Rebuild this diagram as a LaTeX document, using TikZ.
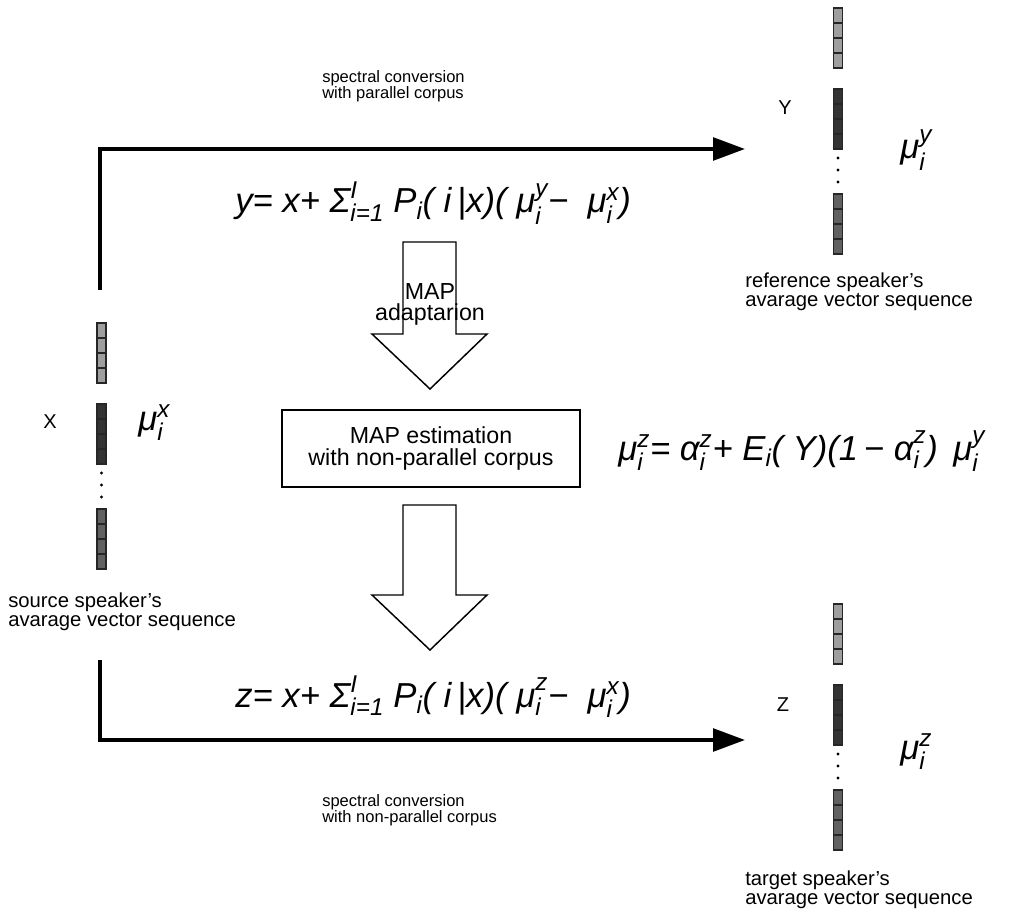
\documentclass[tikz,border=0pt]{standalone}
\usepackage{fontspec}
\usepackage{amsmath}
\setmainfont{Liberation Sans}
\usetikzlibrary{arrows.meta}
\newcommand\T[1]{\text{\itshape #1}}
\tikzset{
  cell/.style={draw=black!85,line width=0.8pt},
  conn/.style={line width=2.8pt,-{Triangle[length=24pt,width=17pt]}},
  blockarrow/.style={draw,line width=1.1pt,fill=white},
  lbl/.style={inner sep=0pt,align=left,font=\fontsize{15.2}{14}\selectfont},
  small/.style={inner sep=0pt,align=left,font=\fontsize{12.4}{12.5}\selectfont},
  mid/.style={inner sep=0pt,align=center,font=\fontsize{17.4}{16}\selectfont},
  letter/.style={inner sep=0pt,font=\fontsize{15}{15}\selectfont},
  formula/.style={inner sep=0pt,anchor=base west,font=\fontsize{26}{28}\selectfont},
}
\newcommand\vcol[3]{%
  \foreach \k in {0,...,3}{
    \draw[cell,fill=black!38] (#2-4.5,#3+\k*15) rectangle ++(9,15);
    \draw[cell,fill=black!80] (#2-4.5,#3+81+\k*15) rectangle ++(9,15);
    \draw[cell,fill=black!62] (#2-4.5,#3+186+\k*15) rectangle ++(9,15);
  }
  \foreach \d in {150,162,174} \fill (#2,#3+\d) circle[radius=1.3pt];
  \coordinate (#1top) at (#2,#3);
}
\begin{document}
\begin{tikzpicture}[x=0.75pt,y=-0.75pt]
\useasboundingbox (0,0) rectangle (1011,913);

% vector columns
\vcol{X}{101.5}{323}
\vcol{Y}{838}{8}
\vcol{Z}{838}{604}

% main conversion arrows
\coordinate (xup) at (100,290);
\coordinate (yin) at (745,149);
\coordinate (xdown) at (100,660);
\coordinate (zin) at (745,740);
\draw[conn] (xup) |- (yin);
\draw[conn] (xdown) |- (zin);

% block arrows
\draw[blockarrow] (403,242) -- (456,242) -- (456,334) -- (487,334) -- (430,389) -- (372,334) -- (403,334) -- cycle;
\draw[blockarrow] (403,505) -- (456,505) -- (456,595) -- (487,595) -- (430,650) -- (372,595) -- (403,595) -- cycle;

% MAP box
\node[mid,draw,line width=1.1pt,minimum width=223.5pt,minimum height=57.75pt] (mapbox) at (431,448.5) {MAP estimation\\with non-parallel corpus};
\node[mid,anchor=north] (mapad) at (430,283) {MAP\\adaptarion};

% texts
\node[small,anchor=north west] (sc1) at (322,70) {spectral conversion\\with parallel corpus};
\node[small,anchor=north west] (sc2) at (322,794) {spectral conversion\\with non-parallel corpus};
\node[lbl,anchor=north west] (src) at (8,593) {source speaker's\\avarage vector sequence};
\node[lbl,anchor=north west] (ref) at (745,273) {reference speaker's\\avarage vector sequence};
\node[lbl,anchor=north west] (tgt) at (745,871) {target speaker's\\avarage vector sequence};
\node[letter] (lx) at (50,422) {X};
\node[letter] (ly) at (785,108) {Y};
\node[letter] (lz) at (783,705) {Z};

% mu labels
\node[formula] (mux) at (138,430) {$\T{μ}_{\T{i}}^{\T{x}}$};
\node[formula] (muy) at (900,159) {$\T{μ}_{\T{i}}^{\T{y}}$};
\node[formula] (muz) at (900,759) {$\T{μ}_{\T{i}}^{\T{z}}$};

% formulas
\node[formula] (fy) at (235,213) {$\T{y=\;x+\;Σ}_{\T{i=1}}^{\T{I}}\;\T{P}_{\T{i}}\T{(\;i\,|x)(\;μ}_{\T{i}}^{\T{y}}\T{−\; μ}_{\T{i}}^{\T{x}}\T{)}$};
\node[formula] (fz) at (235,707) {$\T{z=\;x+\;Σ}_{\T{i=1}}^{\T{I}}\;\T{P}_{\T{i}}\T{(\;i\,|x)(\;μ}_{\T{i}}^{\T{z}}\T{−\; μ}_{\T{i}}^{\T{x}}\T{)}$};
\node[formula] (fmu) at (618,460) {$\T{μ}_{\T{i}}^{\T{z}}\T{=\;α}_{\T{i}}^{\T{z}}\T{+\;E}_{\T{i}}\T{(\;Y)(1\,−\;α}_{\T{i}}^{\T{z}}\T{)\;\,μ}_{\T{i}}^{\T{y}}$};
\end{tikzpicture}
\end{document}
